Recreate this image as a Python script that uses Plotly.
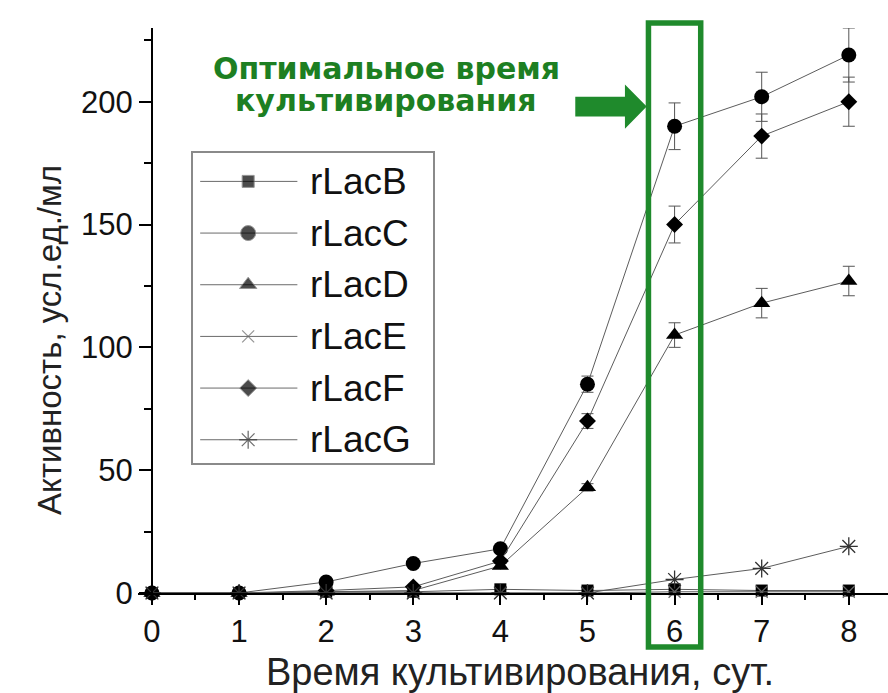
import plotly.graph_objects as go

# Days of cultivation
days = [0, 1, 2, 3, 4, 5, 6, 7, 8]

# Laccase activity (arb. units/ml) and standard deviations
rLacB = [0, 0, 0.5, 0.5, 1.5, 1, 1.5, 1, 1]
rLacC = [0, 0, 4.5, 12, 18, 85, 190, 202, 219]
rLacC_err = [0, 0, 0, 0, 0, 3.3, 9.5, 10, 11]
rLacD = [0, 0, 0.5, 1, 11, 43, 105, 118, 127]
rLacD_err = [0, 0, 0, 0, 1, 1.5, 5, 6, 6]
rLacE = [0, 0, 0, 0, 0, 0, 0.5, 0.5, 0.5]
rLacF = [0, 0, 1, 2.5, 13, 70, 150, 186, 200]
rLacF_err = [0, 0, 0, 0, 1, 3, 7.5, 9, 10]
rLacG = [0, 0, 0, 0, 0, 0, 5.5, 10, 19]

series_names = ["rLacB", "rLacC", "rLacD", "rLacE", "rLacF", "rLacG"]
series_values = [rLacB, rLacC, rLacD, rLacE, rLacF, rLacG]
series_errors = [None, rLacC_err, rLacD_err, None, rLacF_err, None]

x_tick_vals = [0, 1, 2, 3, 4, 5, 6, 7, 8]
y_tick_vals = [0, 50, 100, 150, 200]

optimal_day = 6
x_title = "Время культивирования, сут."
y_title = "Активность, усл.ед./мл"
note_lines = ["Оптимальное время", "культивирования"]

# ---- styling ----
X_MIN, X_MAX = -0.16, 8.45
Y_MIN, Y_MAX = 0, 230
FONT = "Liberation Sans, Arial, sans-serif"
BOLD_FONT = "DejaVu Sans, Arial Black, sans-serif"
GREEN = "#1f8a2c"
TEXT_GREEN = "#1d7f22"
LINE_GRAY = "#5c5c5c"

marker_styles = {
    "rLacB": dict(symbol="square", size=12, color="black"),
    "rLacC": dict(symbol="circle", size=15, color="black"),
    "rLacD": dict(symbol="triangle-up", size=15, color="black"),
    "rLacE": dict(symbol="x-thin-open", size=12, color="#666666",
                  line=dict(width=1.2, color="#666666")),
    "rLacF": dict(symbol="diamond", size=13, color="black"),
    "rLacG": dict(symbol="asterisk-open", size=15, color="#333333",
                  line=dict(width=1.3, color="#333333")),
}


def to_paper_x(x):
    return (x - X_MIN) / (X_MAX - X_MIN)


def to_paper_y(y):
    return (y - Y_MIN) / (Y_MAX - Y_MIN)


fig = go.Figure()

for name, vals, errs in zip(series_names, series_values, series_errors):
    tr = dict(
        x=days, y=vals, name=name, mode="lines+markers",
        line=dict(color=LINE_GRAY, width=1),
        marker=marker_styles[name],
        cliponaxis=False, showlegend=False,
        xaxis="x", yaxis="y",
    )
    if errs is not None:
        tr["error_y"] = dict(type="data", array=errs, visible=True,
                             color="#555555", thickness=1, width=6)
    fig.add_trace(go.Scatter(**tr))

# ---- legend drawn on its own small subplot ----
n = len(series_names)
for i, name in enumerate(series_names):
    yk = 1 - (i + 0.55) / n
    fig.add_trace(go.Scatter(
        x=[0.03, 0.23, 0.435], y=[yk, yk, yk], mode="lines+markers",
        line=dict(color="#6a6a6a", width=1),
        marker=dict(marker_styles[name], size=[0, marker_styles[name]["size"], 0]),
        showlegend=False, hoverinfo="skip", xaxis="x2", yaxis="y2",
    ))
    fig.add_annotation(x=0.48, y=yk, xref="x2", yref="y2", text=name,
                       showarrow=False, xanchor="left", yanchor="middle",
                       font=dict(family=FONT, size=37, color="#111111"))

# ---- highlight of the optimal cultivation day ----
fig.add_shape(type="rect", xref="paper", yref="paper",
              x0=to_paper_x(optimal_day - 0.3), x1=to_paper_x(optimal_day + 0.3),
              y0=to_paper_y(-22), y1=to_paper_y(232),
              line=dict(color=GREEN, width=5.5), fillcolor="rgba(0,0,0,0)", layer="above")

# arrow pointing at the box
ax_tail, ax_base, ax_tip = 4.86, 5.43, 5.68
ay_mid, ay_body, ay_head = 198, 4, 9
pts = [
    (ax_tail, ay_mid + ay_body), (ax_base, ay_mid + ay_body), (ax_base, ay_mid + ay_head),
    (ax_tip, ay_mid), (ax_base, ay_mid - ay_head), (ax_base, ay_mid - ay_body),
    (ax_tail, ay_mid - ay_body),
]
path = "M " + " L ".join(f"{to_paper_x(a):.5f},{to_paper_y(b):.5f}" for a, b in pts) + " Z"
fig.add_shape(type="path", xref="paper", yref="paper", path=path,
              fillcolor=GREEN, line=dict(width=0), layer="above")

for line_text, line_y in zip(note_lines, [213.5, 200.5]):
    fig.add_annotation(x=2.69, y=line_y, xref="x", yref="y", text=line_text,
                       showarrow=False, align="center", yanchor="middle",
                       font=dict(family=BOLD_FONT, size=30, color=TEXT_GREEN, weight="bold"))

# axis titles
fig.add_annotation(x=0.509, y=-0.14, xref="paper", yref="paper", text=x_title,
                   showarrow=False, xanchor="center", yanchor="middle",
                   font=dict(family=FONT, size=38, color="#222222"))
fig.add_annotation(x=-0.1173, y=0.448, xref="paper", yref="paper", text=y_title,
                   showarrow=False, xanchor="center", yanchor="middle", textangle=-90,
                   font=dict(family=FONT, size=33, color="#222222"))

fig.update_layout(
    width=888, height=693,
    margin=dict(l=138, r=0, t=28, b=100),
    paper_bgcolor="white", plot_bgcolor="white",
    showlegend=False,
    font=dict(family=FONT, color="#111111"),
    xaxis=dict(
        range=[X_MIN, X_MAX], domain=[0, 1], anchor="y",
        tickmode="array", tickvals=x_tick_vals,
        ticks="outside", ticklen=10, tickwidth=1.5, tickcolor="black",
        showline=True, linecolor="black", linewidth=2,
        showgrid=False, zeroline=False,
        tickfont=dict(family=FONT, size=31, color="#111111"),
        minor=dict(dtick=0.5, tick0=0, ticks="outside", ticklen=5,
                   tickwidth=1.5, tickcolor="black", showgrid=False),
    ),
    yaxis=dict(
        range=[Y_MIN, Y_MAX], domain=[0, 1], anchor="free",
        position=to_paper_x(0),
        tickmode="array", tickvals=y_tick_vals,
        ticks="outside", ticklen=12, tickwidth=1.5, tickcolor="black",
        showline=True, linecolor="black", linewidth=2,
        showgrid=False, zeroline=False,
        tickfont=dict(family=FONT, size=31, color="#111111"),
        minor=dict(dtick=25, tick0=0, ticks="outside", ticklen=7,
                   tickwidth=1.5, tickcolor="black", showgrid=False),
    ),
    xaxis2=dict(domain=[0.0733, 0.3933], range=[0, 1], anchor="y2",
                showline=True, mirror=True, linecolor="#8a8a8a", linewidth=1.5,
                showticklabels=False, ticks="", showgrid=False, zeroline=False,
                fixedrange=True),
    yaxis2=dict(domain=[0.2301, 0.7788], range=[0, 1], anchor="x2",
                showline=True, mirror=True, linecolor="#8a8a8a", linewidth=1.5,
                showticklabels=False, ticks="", showgrid=False, zeroline=False,
                fixedrange=True),
)

fig.write_html("out.html")
